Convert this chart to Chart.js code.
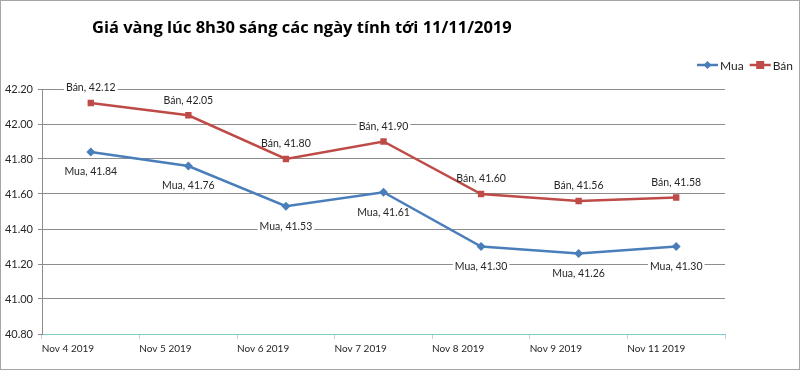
<!DOCTYPE html>
<html>
<head>
<meta charset="utf-8">
<script src="https://cdn.jsdelivr.net/npm/chart.js@4"></script>
<style>
  html, body { margin: 0; padding: 0; background: #fff; }
  #wrap { width: 800px; height: 370px; position: relative; }
</style>
</head>
<body>
<div id="wrap"><canvas id="gold-price" width="800" height="370"></canvas></div>
<script>
const chartTitle = "Giá vàng lúc 8h30 sáng các ngày tính tới 11/11/2019";
const labels = ["Nov 4 2019", "Nov 5 2019", "Nov 6 2019", "Nov 7 2019", "Nov 8 2019", "Nov 9 2019", "Nov 11 2019"];
const mua = [41.84, 41.76, 41.53, 41.61, 41.3, 41.26, 41.3];
const ban = [42.12, 42.05, 41.8, 41.9, 41.6, 41.56, 41.58];
const yMin = 40.8;
const yMax = 42.2;
const yStep = 0.2;

const labelFont = "10.5px Lato, 'Liberation Sans', sans-serif";

// runs fn for every "Series, value" label with its position
const eachLabel = (chart, fn) => {
  chart.data.datasets.forEach((ds, i) => {
    const meta = chart.getDatasetMeta(i);
    meta.data.forEach((pt, j) => {
      const text = ds.label + ", " + ds.data[j].toFixed(2);
      const y = ds.labelBelow ? pt.y + 20 : pt.y - 15;
      fn(text, pt.x, y);
    });
  });
};

// title, legend, border and the data labels
const decorations = {
  id: "decorations",
  beforeDatasetsDraw(chart) {
    // white boxes hide the gridlines under the labels
    const ctx = chart.ctx;
    ctx.save();
    ctx.font = labelFont;
    ctx.fillStyle = "#fff";
    eachLabel(chart, (text, x, y) => {
      const w = ctx.measureText(text).width;
      ctx.fillRect(x - w / 2 - 2, y - 6, w + 4, 12);
    });
    ctx.restore();
  },
  afterDatasetsDraw(chart) {
    const ctx = chart.ctx;
    ctx.save();
    ctx.font = labelFont;
    ctx.textAlign = "center";
    ctx.textBaseline = "middle";
    ctx.fillStyle = "#262626";
    eachLabel(chart, (text, x, y) => ctx.fillText(text, x, y));
    ctx.restore();
  },
  afterDraw(chart) {
    const ctx = chart.ctx;
    ctx.save();
    // outer frame
    ctx.strokeStyle = "#a6a6a6";
    ctx.lineWidth = 1;
    ctx.strokeRect(0.5, 0.5, chart.width - 1, chart.height - 1);

    // title
    ctx.font = "bold 16.5px 'Open Sans', Lato, sans-serif";
    ctx.fillStyle = "#000";
    ctx.textAlign = "left";
    ctx.textBaseline = "middle";
    ctx.fillText(chartTitle, 92, 28);

    // legend
    let x = 697;
    const y = 65;
    ctx.font = "12px Lato, 'Liberation Sans', sans-serif";
    chart.data.datasets.forEach((ds) => {
      ctx.strokeStyle = ds.borderColor;
      ctx.lineWidth = 2.5;
      ctx.beginPath();
      ctx.moveTo(x, y);
      ctx.lineTo(x + 21, y);
      ctx.stroke();
      ctx.fillStyle = ds.borderColor;
      const cx = x + 10.5;
      if (ds.pointStyle === "rect") {
        ctx.fillRect(cx - 4, y - 4, 8, 8);
      } else {
        ctx.beginPath();
        ctx.moveTo(cx, y - 4);
        ctx.lineTo(cx + 4, y);
        ctx.lineTo(cx, y + 4);
        ctx.lineTo(cx - 4, y);
        ctx.closePath();
        ctx.fill();
      }
      ctx.fillStyle = "#262626";
      ctx.fillText(ds.label, x + 23, y + 1);
      x += 23 + ctx.measureText(ds.label).width + 6;
    });
    ctx.restore();
  },
};

const ctx = document.getElementById("gold-price");

const goldChart = new Chart(ctx, {
  type: "line",
  data: {
    labels: labels,
    datasets: [
      {
        label: "Mua",
        data: mua,
        borderColor: "#4a7ebb",
        backgroundColor: "#4a7ebb",
        borderWidth: 2.5,
        pointStyle: "rectRot",
        pointRadius: 4.5,
        pointBorderWidth: 0,
        tension: 0,
        labelBelow: true,
      },
      {
        label: "Bán",
        data: ban,
        borderColor: "#be4b48",
        backgroundColor: "#be4b48",
        borderWidth: 2.5,
        pointStyle: "rect",
        pointRadius: 4.5,
        pointBorderWidth: 0,
        tension: 0,
        labelBelow: false,
      },
    ],
  },
  options: {
    responsive: false,
    animation: false,
    devicePixelRatio: 1,
    layout: { padding: { top: 89, right: 75, left: 0, bottom: 0 } },
    plugins: {
      legend: { display: false },
      title: { display: false },
      tooltip: { enabled: false },
    },
    scales: {
      x: {
        offset: true,
        afterFit: (scale) => { scale.height = 36; },
        grid: {
          offset: true,
          drawOnChartArea: false,
          drawTicks: true,
          tickLength: 5,
          color: "#b9d6d4",
        },
        border: { color: "#7fcfca", width: 1 },
        ticks: {
          align: "start",
          labelOffset: -49,
          padding: 4,
          autoSkip: false,
          maxRotation: 0,
          color: "#262626",
          font: { family: "Lato, 'Liberation Sans', sans-serif", size: 10 },
        },
      },
      y: {
        min: yMin,
        max: yMax,
        afterFit: (scale) => { scale.width = 42; },
        grid: {
          color: (c) => (c.index === 0 ? "#7fcfca" : "#8c8c8c"),
          tickLength: 4,
          tickColor: "#8c8c8c",
        },
        border: { color: "#8c8c8c" },
        ticks: {
          stepSize: yStep,
          padding: 5,
          color: "#262626",
          font: { family: "Lato, 'Liberation Sans', sans-serif", size: 11 },
          callback: (v) => v.toFixed(2),
        },
      },
    },
  },
  plugins: [decorations],
});
</script>
</body>
</html>
